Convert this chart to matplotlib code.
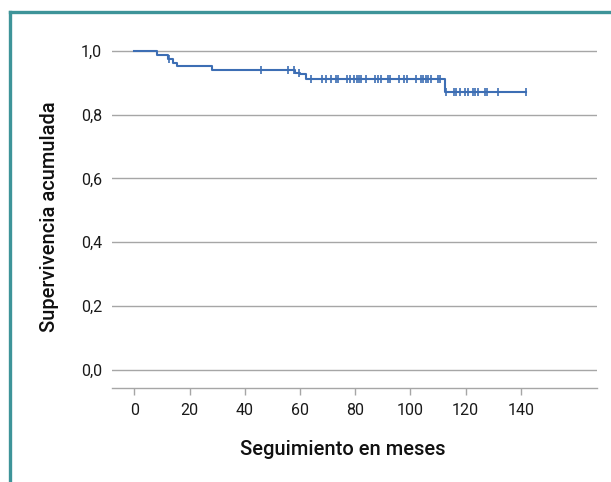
import matplotlib
matplotlib.use("Agg")
import matplotlib.pyplot as plt
from matplotlib.lines import Line2D
import numpy as np

# Step curve: event times (months) and survival level after each event
event_times = [0, 8.1, 12.3, 14.1, 15.4, 28.0, 58.3, 60.0, 62.1, 112.6]
survival = [1.0, 0.987, 0.975, 0.963, 0.951, 0.939, 0.932, 0.926, 0.913, 0.872]
end_time = 142.0

# Censored observations (months)
censored = [12.5, 46.0, 55.8, 57.7, 59.7, 63.9, 68.1, 69.3, 71.1, 73.1, 73.8,
            77.2, 78.1, 79.7, 80.7, 81.5, 82.1, 83.8, 87.0, 88.1, 89.4, 91.8,
            92.6, 95.9, 97.7, 98.9, 102.1, 103.8, 104.7, 105.6, 106.5, 107.5,
            109.9, 110.8, 113.0, 115.8, 116.7, 117.8, 119.8, 120.7, 122.6,
            123.4, 124.5, 127.1, 127.7, 131.9, 141.9]

xticks = [0, 20, 40, 60, 80, 100, 120, 140]
yticks = [0.0, 0.2, 0.4, 0.6, 0.8, 1.0]
ytick_labels = ["0,0", "0,2", "0,4", "0,6", "0,8", "1,0"]

plt.rcParams['font.family'] = ['Roboto', 'DejaVu Sans']

W, H = 611, 482
fig = plt.figure(figsize=(W / 100, H / 100), dpi=100)

teal = "#3E9499"
fig.add_artist(Line2D([9.5 / W, 9.5 / W], [0, 1 - 12 / H], transform=fig.transFigure,
                      color=teal, lw=2.4, solid_capstyle='projecting'))
fig.add_artist(Line2D([9.5 / W, 1], [1 - 12 / H, 1 - 12 / H], transform=fig.transFigure,
                      color=teal, lw=2.4, solid_capstyle='projecting'))

left, right = 112 / W, 597 / W
bottom = 1 - 388 / H
top_px = 41.4
ax_h = 388 - top_px
ax = fig.add_axes([left, bottom, right - left, ax_h / H])

ax.set_xlim(-8.1, 167.6)
ax.set_ylim(-0.0565, 1.0296)

grid_c = "#A6A6A6"
for y in yticks:
    ax.axhline(y, color=grid_c, lw=1.0, zorder=1)

line_c = "#3D6EB4"
xs = list(event_times) + [end_time]
ys = list(survival) + [survival[-1]]
ax.step(xs, ys, where='post', color=line_c, lw=1.5, zorder=3, clip_on=False)

def surv_at(t):
    s = survival[0]
    for et, sv in zip(event_times, survival):
        if t >= et:
            s = sv
    return s

cy = [surv_at(t) for t in censored]
ax.plot(censored, cy, linestyle='none', marker='|', markersize=5.5, mew=1.2,
        color=line_c, zorder=4, clip_on=False)

for s in ['top', 'right', 'left']:
    ax.spines[s].set_visible(False)
ax.spines['bottom'].set_color(grid_c)
ax.spines['bottom'].set_linewidth(1.0)

txt_c = "#1a1a1a"
ax.set_xticks(xticks)
ax.set_xticklabels([str(x) for x in xticks])
ax.set_yticks(yticks)
ax.set_yticklabels(ytick_labels)
ax.tick_params(axis='x', direction='out', length=5, width=1, color=grid_c,
               labelsize=11.5, pad=6, labelcolor=txt_c)
ax.tick_params(axis='y', length=0, labelsize=11.5, pad=7, labelcolor=txt_c)

ax.set_xlabel("Seguimiento en meses", fontsize=14.5, fontweight='medium',
              color="#111111")
ax.xaxis.set_label_coords((343 - 112) / 485, -(440 - 388) / ax_h)
ax.set_ylabel("Supervivencia acumulada", fontsize=14.5, fontweight='medium',
              color="#111111")
ax.yaxis.set_label_coords(-(112 - 59) / 485, (388 - 217) / ax_h)

fig.savefig("out.png", dpi=100)
